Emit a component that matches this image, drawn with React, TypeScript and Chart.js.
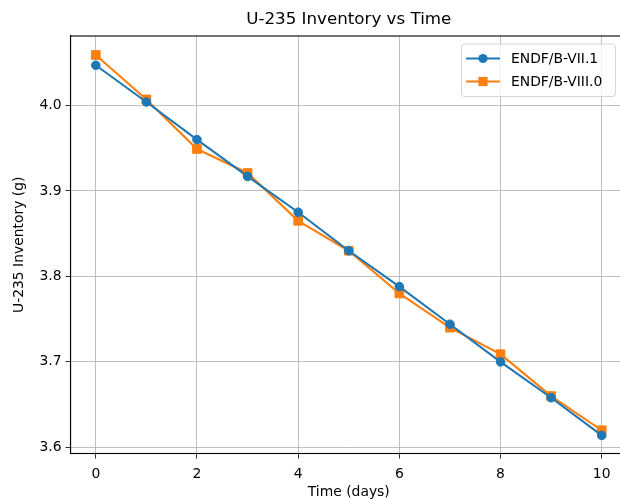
import React, { useEffect, useRef } from "react";
import { Chart, registerables } from "chart.js";

Chart.register(...registerables);

const days = [0, 1, 2, 3, 4, 5, 6, 7, 8, 9, 10];
const endf71 = [4.047, 4.004, 3.960, 3.917, 3.875, 3.830, 3.788, 3.744, 3.700, 3.658, 3.614];
const endf80 = [4.059, 4.007, 3.949, 3.921, 3.865, 3.830, 3.780, 3.740, 3.709, 3.660, 3.620];
const seriesNames = ["ENDF/B-VII.1", "ENDF/B-VIII.0"];
const xTickValues = [0, 2, 4, 6, 8, 10];
const yTickValues = [3.6, 3.7, 3.8, 3.9, 4.0];
const titleText = "U-235 Inventory vs Time";
const xLabel = "Time (days)";
const yLabel = "U-235 Inventory (g)";

const BLUE = "#1f77b4";
const ORANGE = "#ff7f0e";
const FONT = "'DejaVu Sans', sans-serif";

// The original axes extend a few pixels past the right edge of the image.
const extendPlugin = {
  id: "extendRight",
  afterLayout(chart: any) {
    const ext = chart.width + 7;
    chart.chartArea.right = ext;
    chart.chartArea.width = ext - chart.chartArea.left;
    const xs = chart.scales.x;
    xs.right = ext;
    xs.width = ext - xs.left;
    xs.configure();
    xs._labelItems = null;
  },
};

const framePlugin = {
  id: "mplFrame",
  afterDraw(chart: any) {
    const { ctx, chartArea } = chart;
    const { left, right, top, bottom } = chartArea;
    ctx.save();
    // frame
    ctx.strokeStyle = "#000";
    ctx.lineWidth = 1.1;
    ctx.strokeRect(left, top, right - left, bottom - top);
    // title
    ctx.fillStyle = "#000";
    ctx.font = `16.7px ${FONT}`;
    ctx.textAlign = "center";
    ctx.textBaseline = "middle";
    ctx.fillText(titleText, (left + right) / 2, 20);
    // legend
    const bx = 461.5, by = 44, bw = 154, bh = 52.5, r = 3;
    ctx.beginPath();
    ctx.moveTo(bx + r, by);
    ctx.lineTo(bx + bw - r, by);
    ctx.quadraticCurveTo(bx + bw, by, bx + bw, by + r);
    ctx.lineTo(bx + bw, by + bh - r);
    ctx.quadraticCurveTo(bx + bw, by + bh, bx + bw - r, by + bh);
    ctx.lineTo(bx + r, by + bh);
    ctx.quadraticCurveTo(bx, by + bh, bx, by + bh - r);
    ctx.lineTo(bx, by + r);
    ctx.quadraticCurveTo(bx, by, bx + r, by);
    ctx.closePath();
    ctx.fillStyle = "rgba(255,255,255,0.8)";
    ctx.fill();
    ctx.strokeStyle = "rgba(204,204,204,0.8)";
    ctx.lineWidth = 1;
    ctx.stroke();
    const rows = [
      { y: 58.5, color: BLUE, shape: "circle", label: seriesNames[0] },
      { y: 81.5, color: ORANGE, shape: "rect", label: seriesNames[1] },
    ];
    rows.forEach((row) => {
      ctx.strokeStyle = row.color;
      ctx.lineWidth = 2.1;
      ctx.beginPath();
      ctx.moveTo(466, row.y);
      ctx.lineTo(500, row.y);
      ctx.stroke();
      ctx.fillStyle = row.color;
      if (row.shape === "circle") {
        ctx.beginPath();
        ctx.arc(483, row.y, 4.6, 0, Math.PI * 2);
        ctx.fill();
      } else {
        ctx.fillRect(483 - 4.6, row.y - 4.6, 9.2, 9.2);
      }
      ctx.fillStyle = "#000";
      ctx.font = `13.9px ${FONT}`;
      ctx.textAlign = "left";
      ctx.textBaseline = "middle";
      ctx.fillText(row.label, 511, row.y + 0.5);
    });
    ctx.restore();
  },
};

export default function App() {
  const ref = useRef<HTMLCanvasElement | null>(null);
  useEffect(() => {
    if (!ref.current) return;
    const chart = new Chart(ref.current, {
      type: "line",
      data: {
        datasets: [
          {
            label: seriesNames[0],
            data: days.map((d, i) => ({ x: d, y: endf71[i] })),
            borderColor: BLUE,
            backgroundColor: BLUE,
            pointBackgroundColor: BLUE,
            pointBorderColor: BLUE,
            pointStyle: "circle",
            pointRadius: 4.3,
            pointBorderWidth: 1,
            borderWidth: 2.1,
            tension: 0,
            fill: false,
          },
          {
            label: seriesNames[1],
            data: days.map((d, i) => ({ x: d, y: endf80[i] })),
            borderColor: ORANGE,
            backgroundColor: ORANGE,
            pointBackgroundColor: ORANGE,
            pointBorderColor: ORANGE,
            pointStyle: "rect",
            pointRadius: 6.1,
            pointBorderWidth: 1,
            borderWidth: 2.1,
            tension: 0,
            fill: false,
          },
        ],
      },
      options: {
        animation: false,
        responsive: false,
        devicePixelRatio: 1,
        layout: { padding: { top: 36, right: 0, left: 0, bottom: 0 } },
        plugins: {
          legend: { display: false },
          title: { display: false },
          tooltip: { enabled: false },
        },
        scales: {
          x: {
            type: "linear",
            min: -0.5,
            max: 10.5,
            afterFit: (s: any) => {
              s.height = 45.5;
              s.paddingLeft = 0;
              s.paddingRight = 0;
            },
            afterBuildTicks: (s: any) => {
              s.ticks = xTickValues.map((v) => ({ value: v }));
            },
            ticks: {
              color: "#000",
              font: { family: FONT, size: 13.9 },
              padding: 8,
              maxRotation: 0,
              autoSkip: false,
              callback: (v: any) => String(v),
            },
            grid: {
              color: "#b0b0b0",
              lineWidth: 0.8,
              tickColor: "#000",
              tickLength: 5,
              drawTicks: true,
            },
            border: { display: true, color: "#000", width: 1.1 },
            title: {
              display: true,
              text: xLabel,
              color: "#000",
              font: { family: FONT, size: 13.9, lineHeight: 1 },
              padding: { top: 0, bottom: 0 },
            },
          },
          y: {
            type: "linear",
            min: 3.5928,
            max: 4.0812,
            afterFit: (s: any) => {
              s.width = 70.5;
              s.paddingTop = 0;
              s.paddingBottom = 0;
            },
            afterBuildTicks: (s: any) => {
              s.ticks = yTickValues.map((v) => ({ value: v }));
            },
            ticks: {
              color: "#000",
              font: { family: FONT, size: 13.9 },
              padding: 4,
              autoSkip: false,
              callback: (v: any) => Number(v).toFixed(1),
            },
            grid: {
              color: "#b0b0b0",
              lineWidth: 0.8,
              tickColor: "#000",
              tickLength: 5,
              drawTicks: true,
            },
            border: { display: true, color: "#000", width: 1.1 },
            title: {
              display: true,
              text: yLabel,
              color: "#000",
              font: { family: FONT, size: 13.9, lineHeight: 1.2 },
              padding: { top: 11, bottom: 0 },
            },
          },
        },
      },
      plugins: [extendPlugin, framePlugin],
    });
    return () => chart.destroy();
  }, []);

  return (
    <div
      style={{
        position: "fixed",
        left: 0,
        top: 0,
        width: 620,
        height: 499,
        overflow: "hidden",
        background: "#fff",
      }}
    >
      <canvas ref={ref} width={620} height={499} style={{ display: "block" }} />
    </div>
  );
}
